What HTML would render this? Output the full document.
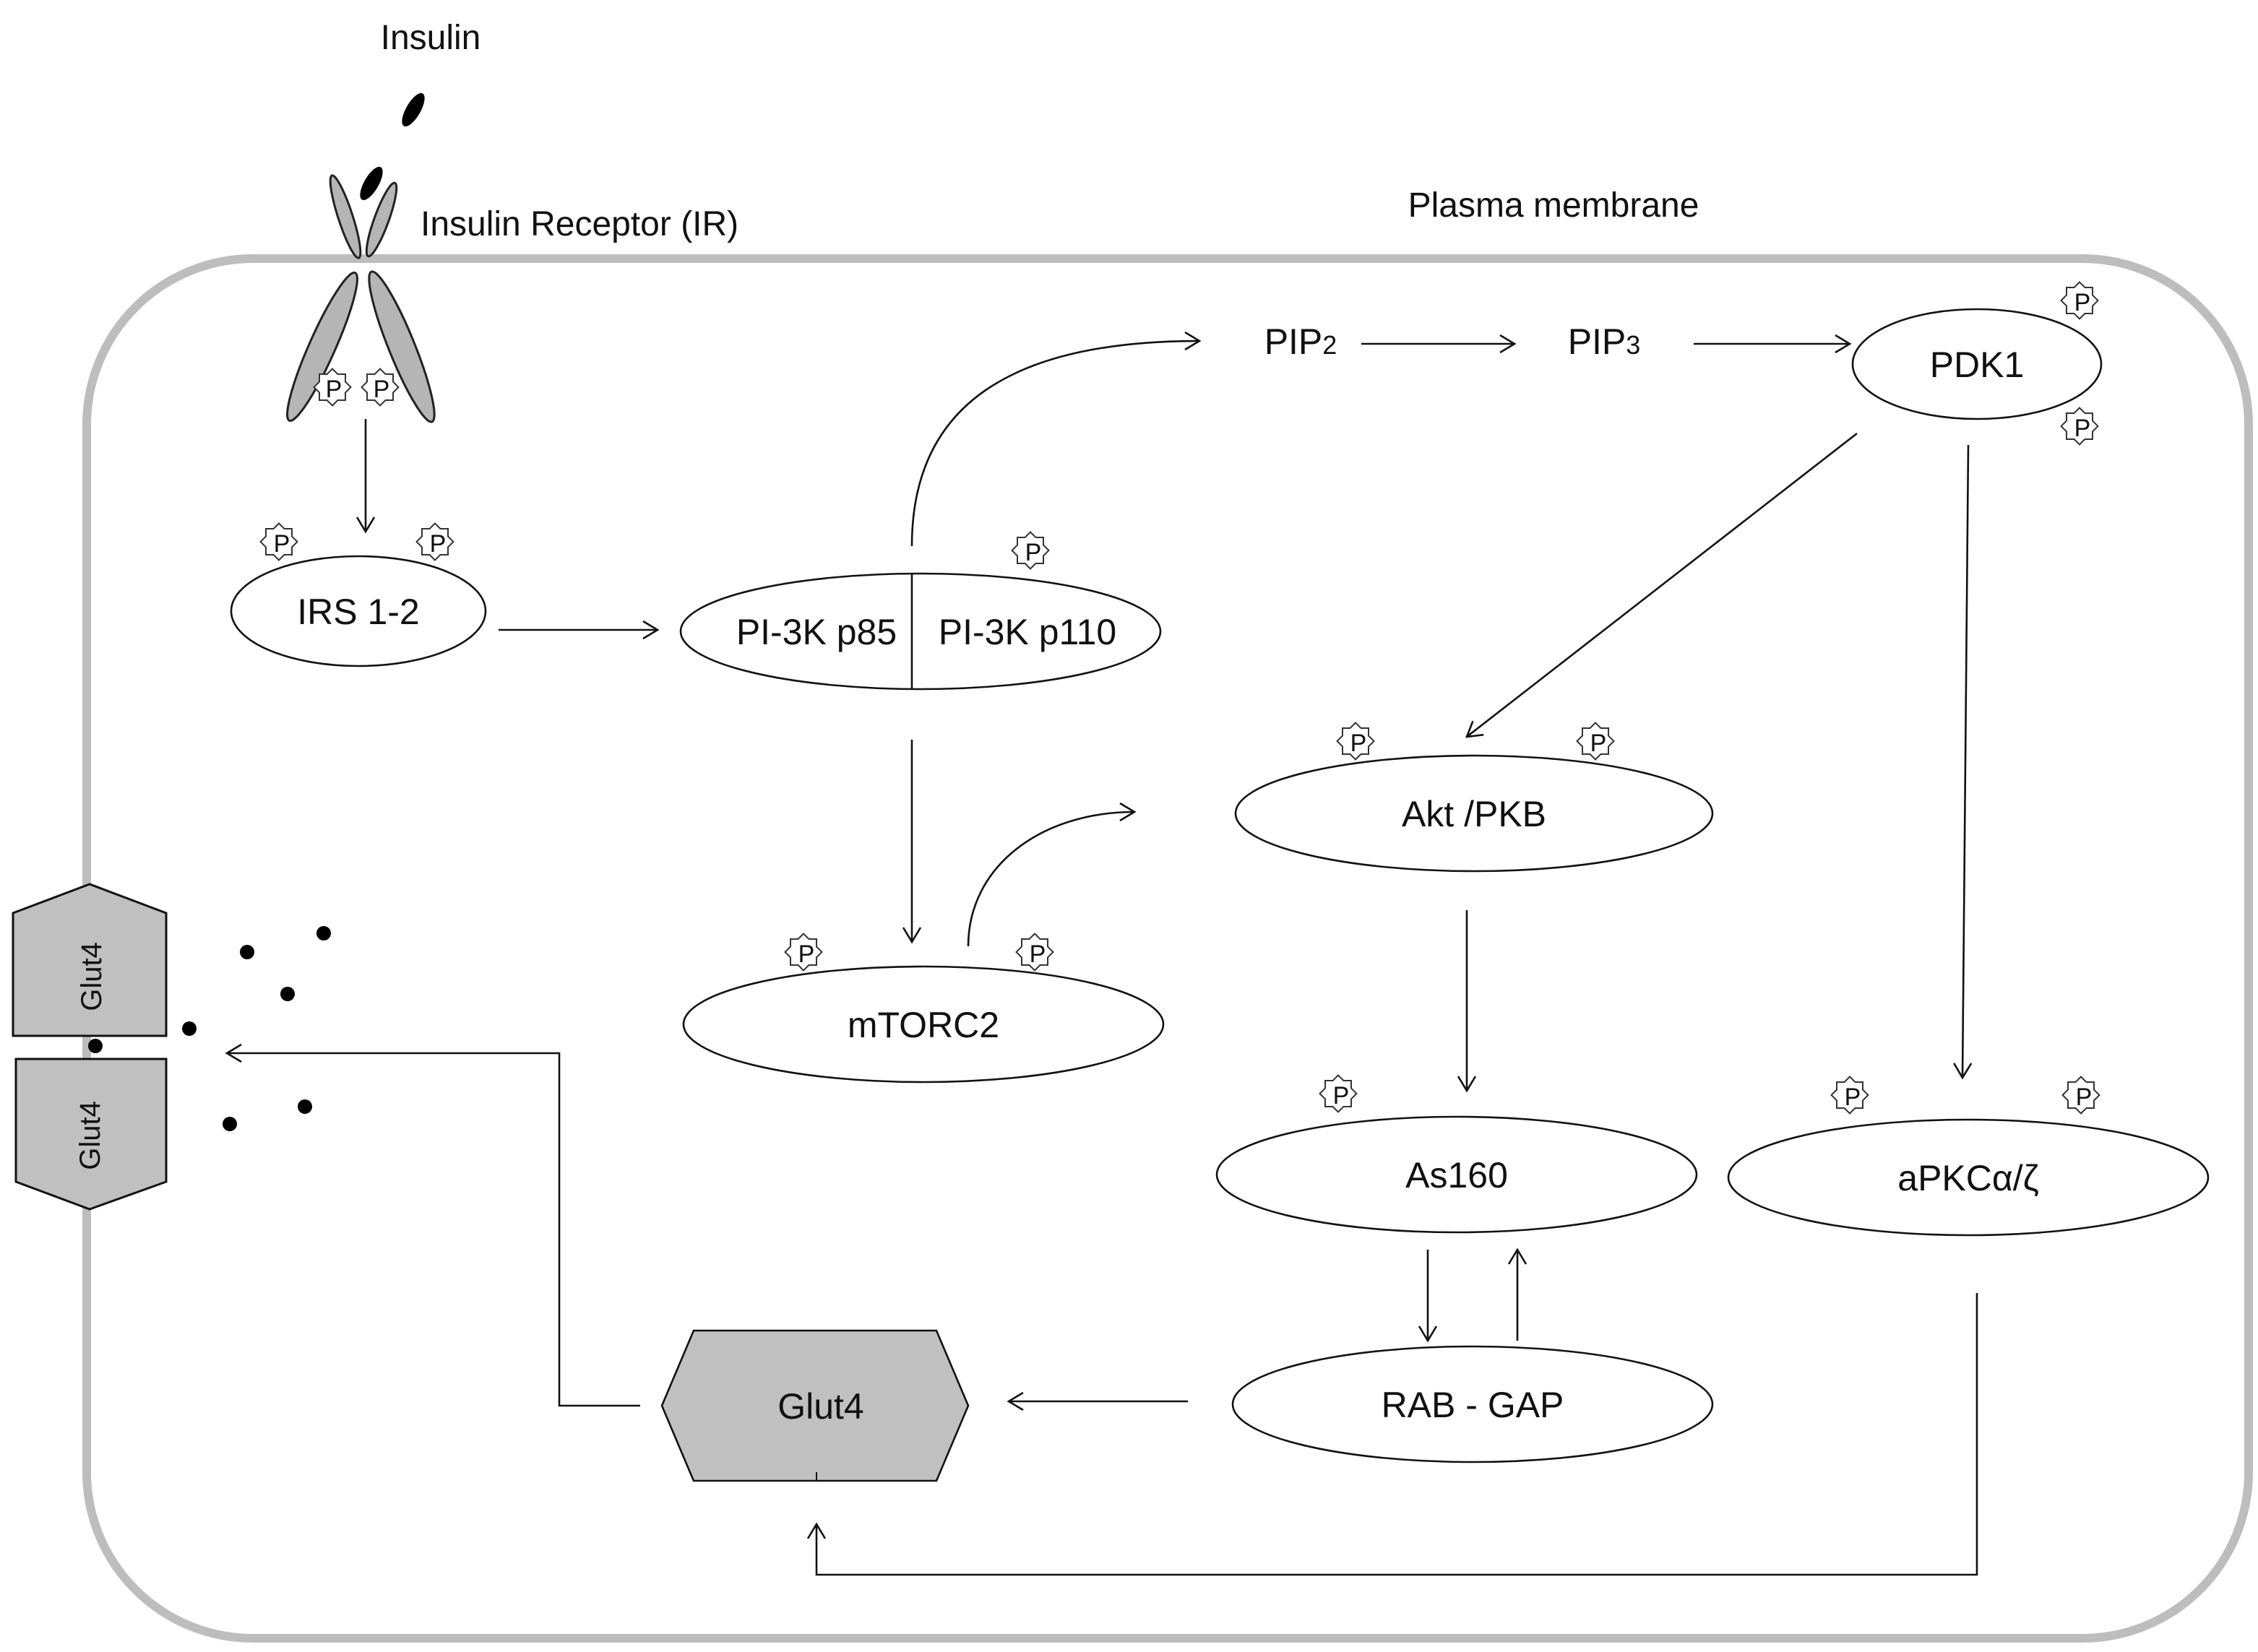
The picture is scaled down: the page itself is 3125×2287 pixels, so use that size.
<!DOCTYPE html>
<html><head><meta charset="utf-8"><style>
html,body{margin:0;padding:0;background:#fff}
svg{display:block}
text{font-family:"Liberation Sans",sans-serif;fill:#111}
</style></head><body>
<svg width="3125" height="2287" viewBox="0 0 1562.5 1143.5" xmlns="http://www.w3.org/2000/svg">
<defs>
<marker id="a" markerWidth="16" markerHeight="16" refX="14" refY="8" orient="auto" markerUnits="userSpaceOnUse">
<polyline points="4,2 14,8 4,14" fill="none" stroke="#111" stroke-width="1.3"/>
</marker>
<g id="star"><rect x="-9" y="-9" width="18" height="18" fill="#fff" stroke="#333" stroke-width="1"/><rect x="-9" y="-9" width="18" height="18" fill="#fff" stroke="#333" stroke-width="1" transform="rotate(45)"/><rect x="-8.5" y="-8.5" width="17" height="17" fill="#fff"/></g>
</defs>
<rect x="60" y="179" width="1496" height="955" rx="115" ry="115" fill="none" stroke="#bdbdbd" stroke-width="6"/>
<text x="298" y="34" font-size="24" text-anchor="middle">Insulin</text>
<ellipse cx="286" cy="76" rx="5" ry="13" transform="rotate(30 286 76)" fill="#000"/>
<ellipse cx="257" cy="127" rx="5" ry="13" transform="rotate(30 257 127)" fill="#000"/>
<g fill="#b5b5b5" stroke="#222" stroke-width="1.5">
<ellipse cx="239" cy="150" rx="5" ry="30" transform="rotate(-18 239 150)"/>
<ellipse cx="264" cy="152" rx="5" ry="27" transform="rotate(20 264 152)"/>
<ellipse cx="223" cy="240" rx="9" ry="56" transform="rotate(24 223 240)"/>
<ellipse cx="278" cy="240" rx="9" ry="56" transform="rotate(-22 278 240)"/>
</g>
<text x="291" y="163" font-size="24">Insulin Receptor (IR)</text>
<text x="1075" y="150" font-size="24" text-anchor="middle">Plasma membrane</text>
<g font-size="17" text-anchor="middle">
<use href="#star" x="230" y="268"/><text x="231" y="275">P</text>
<use href="#star" x="263" y="268"/><text x="264" y="275">P</text>
<use href="#star" x="193" y="375"/><text x="195" y="382">P</text>
<use href="#star" x="301" y="375"/><text x="303" y="382">P</text>
<use href="#star" x="713" y="381"/><text x="715" y="388">P</text>
<use href="#star" x="1439" y="208"/><text x="1441" y="215">P</text>
<use href="#star" x="1439" y="295"/><text x="1441" y="302">P</text>
<use href="#star" x="556" y="659"/><text x="558" y="666">P</text>
<use href="#star" x="716" y="659"/><text x="718" y="666">P</text>
<use href="#star" x="938" y="513"/><text x="940" y="520">P</text>
<use href="#star" x="1104" y="513"/><text x="1106" y="520">P</text>
<use href="#star" x="926" y="757"/><text x="928" y="764">P</text>
<use href="#star" x="1280" y="758"/><text x="1282" y="765">P</text>
<use href="#star" x="1440" y="758"/><text x="1442" y="765">P</text>
</g>
<g fill="#fff" stroke="#111" stroke-width="1.3">
<ellipse cx="248" cy="423" rx="88" ry="38"/>
<ellipse cx="637" cy="437" rx="166" ry="40"/>
<ellipse cx="1368" cy="252" rx="86" ry="38"/>
<ellipse cx="639" cy="709" rx="166" ry="40"/>
<ellipse cx="1020" cy="563" rx="165" ry="40"/>
<ellipse cx="1008" cy="813" rx="166" ry="40"/>
<ellipse cx="1362" cy="815" rx="166" ry="40"/>
<ellipse cx="1019" cy="972" rx="166" ry="40"/>
</g>
<line x1="631" y1="397" x2="631" y2="477" stroke="#111" stroke-width="1.3"/>
<g font-size="25" text-anchor="middle">
<text x="248" y="432">IRS 1-2</text>
<text x="565" y="446">PI-3K p85</text>
<text x="711" y="446">PI-3K p110</text>
<text x="1368" y="261">PDK1</text>
<text x="639" y="718">mTORC2</text>
<text x="1020" y="572">Akt /PKB</text>
<text x="1008" y="822">As160</text>
<text x="1362" y="824">aPKCα/ζ</text>
<text x="1019" y="981">RAB - GAP</text>
<text x="900" y="245">PIP<tspan font-size="18">2</tspan></text>
<text x="1110" y="245">PIP<tspan font-size="18">3</tspan></text>
</g>
<polygon points="458,973 480,921 648,921 670,973 648,1025 480,1025" fill="#c0c0c0" stroke="#111" stroke-width="1.3"/>
<text x="568" y="982" font-size="25" text-anchor="middle">Glut4</text>
<line x1="565" y1="1019" x2="565" y2="1025" stroke="#111"/>
<polygon points="9,632 62,612 115,632 115,717 9,717" fill="#c0c0c0" stroke="#111" stroke-width="1.5"/>
<polygon points="11,733 115,733 115,818 62,837 11,818" fill="#c0c0c0" stroke="#111" stroke-width="1.5"/>
<text x="0" y="0" font-size="20" text-anchor="middle" transform="translate(70,676) rotate(-90)">Glut4</text>
<text x="0" y="0" font-size="20" text-anchor="middle" transform="translate(69,786) rotate(-90)">Glut4</text>
<g fill="#000">
<circle cx="224" cy="646" r="5"/><circle cx="171" cy="659" r="5"/><circle cx="199" cy="688" r="5"/>
<circle cx="131" cy="712" r="5"/><circle cx="66" cy="724" r="5"/><circle cx="211" cy="766" r="5"/><circle cx="159" cy="778" r="5"/>
</g>
<g fill="none" stroke="#111" stroke-width="1.3" marker-end="url(#a)">
<line x1="253" y1="290" x2="253" y2="368"/>
<line x1="345" y1="436" x2="455" y2="436"/>
<path d="M631,378 C631,280 700,236 830,236"/>
<line x1="942" y1="238" x2="1048" y2="238"/>
<line x1="1172" y1="238" x2="1280" y2="238"/>
<line x1="1285" y1="300" x2="1015" y2="510"/>
<line x1="1362" y1="308" x2="1358" y2="746"/>
<line x1="631" y1="512" x2="631" y2="652"/>
<path d="M670,655 C670,600 720,562 785,562"/>
<line x1="1015" y1="630" x2="1015" y2="755"/>
<line x1="988" y1="865" x2="988" y2="928"/>
<line x1="1050" y1="928" x2="1050" y2="865"/>
<line x1="822" y1="970" x2="698" y2="970"/>
<polyline points="443,973 387,973 387,729 157,729"/>
<polyline points="1368,895 1368,1090 565,1090 565,1055"/>
</g>
</svg>
</body></html>
